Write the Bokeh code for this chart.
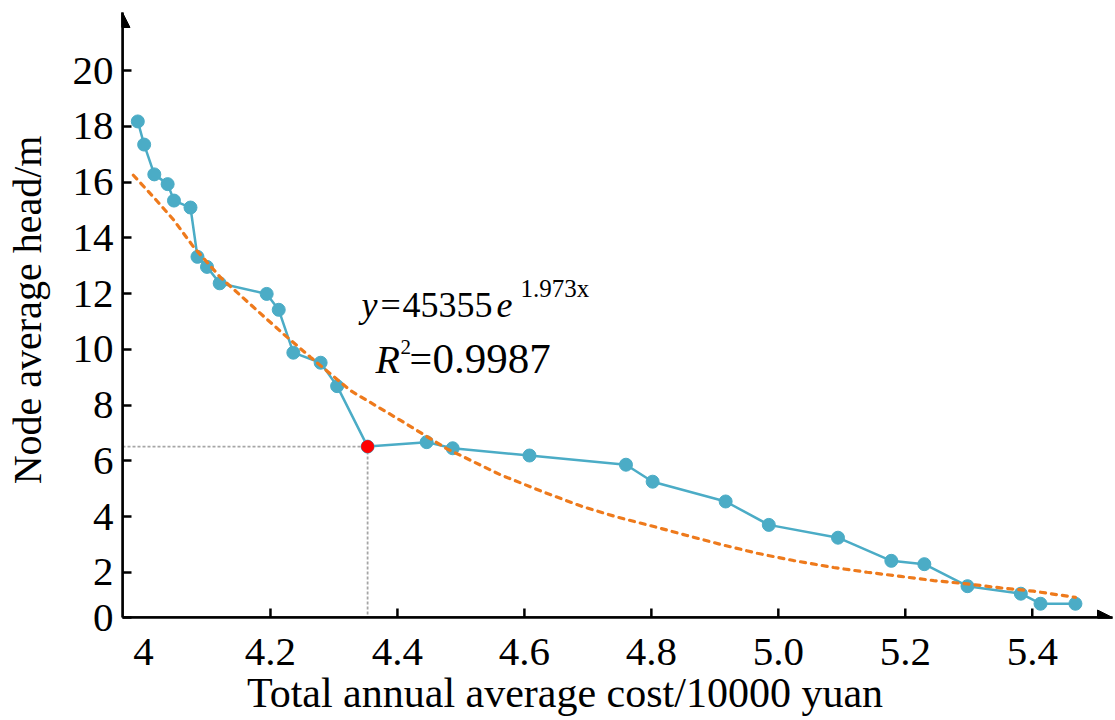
from bokeh.plotting import figure
from bokeh.models import Range1d, FixedTicker, Label, Arrow, NormalHead
from bokeh.embed import file_html
from bokeh.resources import INLINE

# ---- data ----
cost = [3.991, 4.001, 4.017, 4.038, 4.048, 4.074, 4.085, 4.100, 4.120, 4.194,
        4.213, 4.236, 4.279, 4.305, 4.353, 4.446, 4.487, 4.608, 4.760, 4.802,
        4.917, 4.985, 5.094, 5.178, 5.230, 5.298, 5.382, 5.413, 5.468]
head = [18.18, 17.35, 16.28, 15.93, 15.34, 15.09, 13.32, 12.96, 12.37, 11.99,
        11.42, 9.88, 9.52, 8.68, 6.51, 6.67, 6.45, 6.19, 5.86, 5.25,
        4.54, 3.70, 3.24, 2.41, 2.29, 1.50, 1.23, 0.87, 0.87]
opt_cost = [4.353]
opt_head = [6.51]

fit_cost = [3.984, 4.016, 4.048, 4.079, 4.121, 4.167, 4.220, 4.263, 4.326,
            4.405, 4.478, 4.562, 4.631, 4.691, 4.746, 4.804, 4.856, 4.909,
            4.967, 5.024, 5.087, 5.140, 5.193, 5.245, 5.298, 5.350, 5.402, 5.468]
fit_head = [16.25, 15.46, 14.63, 13.67, 12.59, 11.64, 10.56, 9.72, 8.52,
            7.45, 6.43, 5.50, 4.87, 4.36, 3.98, 3.64, 3.32, 3.00,
            2.68, 2.42, 2.17, 2.00, 1.85, 1.70, 1.58, 1.44, 1.32, 1.10]

x_ticks = [4.2, 4.4, 4.6, 4.8, 5.0, 5.2, 5.4]
x_labels = {4.0: "4", 4.2: "4.2", 4.4: "4.4", 4.6: "4.6", 4.8: "4.8",
            5.0: "5.0", 5.2: "5.2", 5.4: "5.4"}
y_ticks = [2, 4, 6, 8, 10, 12, 14, 16, 18, 20]

x_title = "Total annual average cost/10000 yuan"
y_title = "Node average head/m"

X0, X1 = 3.9669, 5.5264
Y0, Y1 = 0.376, 22.09

FONT = "Liberation Serif"
NBSP = "\u00a0"

p = figure(width=1115, height=720,
           x_range=Range1d(X0, X1), y_range=Range1d(Y0, Y1),
           output_backend="svg", toolbar_location=None,
           min_border_left=122, min_border_right=3,
           min_border_top=12, min_border_bottom=103)
p.outline_line_color = None
p.xgrid.visible = False
p.ygrid.visible = False
p.background_fill_color = "white"

p.xaxis.ticker = FixedTicker(ticks=sorted(x_labels.keys()))
p.xaxis.major_label_overrides = x_labels
p.yaxis.ticker = FixedTicker(ticks=[Y0] + y_ticks)
ov = {Y0: "0"}
ov.update({t: str(t) for t in y_ticks})
p.yaxis.major_label_overrides = ov

for ax in (p.xaxis[0], p.yaxis[0]):
    ax.axis_line_color = "black"
    ax.axis_line_width = 2.5
    ax.major_tick_line_color = "black"
    ax.major_tick_line_width = 2.5
    ax.major_tick_in = 9
    ax.major_tick_out = 0
    ax.minor_tick_line_color = None
    ax.major_label_text_font = FONT
    ax.major_label_text_font_size = "41px"
    ax.major_label_text_color = "black"
    ax.axis_label_text_font = FONT
    ax.axis_label_text_font_style = "normal"
    ax.axis_label_text_color = "black"

# x tick marks drawn separately (the "4" label has no tick mark)
p.xaxis.major_tick_in = 0
tick_len = 9 / 27.86
p.segment(x0=x_ticks, y0=[Y0] * len(x_ticks), x1=x_ticks,
          y1=[Y0 + tick_len] * len(x_ticks), line_color="black", line_width=2.5)

# non-breaking spaces shift the centred titles like in the reference
p.xaxis.axis_label = x_title + NBSP * 10
p.xaxis.axis_label_text_font_size = "42px"
p.xaxis.major_label_standoff = 21
p.xaxis.axis_label_standoff = 2
p.yaxis.axis_label = NBSP + y_title
p.yaxis.axis_label_text_font_size = "40px"
p.yaxis.major_label_standoff = 9
p.yaxis.axis_label_standoff = 20

# axis arrows
p.add_layout(Arrow(end=NormalHead(size=15, fill_color="black", line_color="black"),
                   x_start=X0, y_start=Y0, x_end=X0, y_end=Y1,
                   line_color="black", line_width=2.5))
p.add_layout(Arrow(end=NormalHead(size=15, fill_color="black", line_color="black"),
                   x_start=X0, y_start=Y0, x_end=X1, y_end=Y0,
                   line_color="black", line_width=2.5))

# guide lines to the optimal point
p.line([X0, opt_cost[0]], [opt_head[0], opt_head[0]], line_color="#A6A6A6",
       line_width=1.8, line_dash="3 2")
p.line([opt_cost[0], opt_cost[0]], [opt_head[0], Y0], line_color="#A6A6A6",
       line_width=1.8, line_dash="3 2")

# pareto series
p.line(cost, head, line_color="#4BACC6", line_width=2.5)
p.scatter(cost, head, size=13, fill_color="#4BACC6", line_color="#4BACC6")
p.scatter(opt_cost, opt_head, size=12, fill_color="#FF0000", line_color="#FF0000")

# fitted trend
p.line(fit_cost, fit_head, line_color="#EE7A1C", line_width=3.2,
       line_dash="5 6", line_cap="round")

# equation text
def X(px):
    return 4.8 + (px - 650.86) / 634.8

def Y(py):
    return 11 - (py - 321) / 27.86

def lab(px, py, txt, size, style="normal"):
    p.add_layout(Label(x=X(px), y=Y(py), text=txt, text_font=FONT,
                       text_font_size=size, text_font_style=style,
                       text_align="left", text_baseline="alphabetic",
                       text_color="black"))

lab(361, 305, "y", "36px", "italic")
lab(380, 305, "=", "36px")
lab(402, 305, "45355", "36px")
lab(496, 305, "e", "36px", "italic")
lab(520, 288, "1.973x", "25px")
lab(375, 359, "R", "40px", "italic")
lab(400, 347, "2", "21px")
lab(409, 359, "=", "40px")
lab(432, 359, "0.9987", "43px")

open("out.html", "w").write(file_html(p, INLINE))
